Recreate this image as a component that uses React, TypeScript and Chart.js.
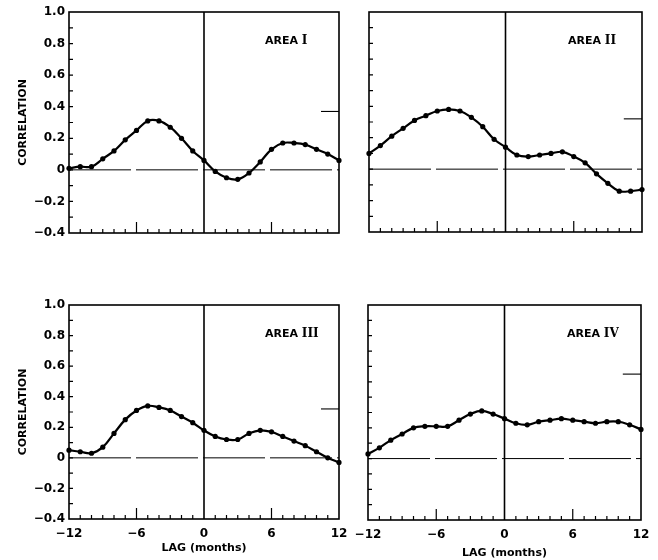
import React, { useEffect, useRef } from "react";
import { Chart, registerables } from "chart.js";

Chart.register(...registerables);

// Lag in months
const LAGS = [-12, -11, -10, -9, -8, -7, -6, -5, -4, -3, -2, -1, 0, 1, 2, 3, 4, 5, 6, 7, 8, 9, 10, 11, 12];

// Lagged correlation for each area
const AREA_I = [0.01, 0.02, 0.02, 0.07, 0.12, 0.19, 0.25, 0.31, 0.31, 0.27, 0.2, 0.12, 0.06, -0.01, -0.05, -0.06, -0.02, 0.05, 0.13, 0.17, 0.17, 0.16, 0.13, 0.1, 0.06];
const AREA_II = [0.1, 0.15, 0.21, 0.26, 0.31, 0.34, 0.37, 0.38, 0.37, 0.33, 0.27, 0.19, 0.14, 0.09, 0.08, 0.09, 0.1, 0.11, 0.08, 0.04, -0.03, -0.09, -0.14, -0.14, -0.13];
const AREA_III = [0.05, 0.04, 0.03, 0.07, 0.16, 0.25, 0.31, 0.34, 0.33, 0.31, 0.27, 0.23, 0.18, 0.14, 0.12, 0.12, 0.16, 0.18, 0.17, 0.14, 0.11, 0.08, 0.04, 0.0, -0.03];
const AREA_IV = [0.03, 0.07, 0.12, 0.16, 0.2, 0.21, 0.21, 0.21, 0.25, 0.29, 0.31, 0.29, 0.26, 0.23, 0.22, 0.24, 0.25, 0.26, 0.25, 0.24, 0.23, 0.24, 0.24, 0.22, 0.19];

// Significance level marked at the right edge of each panel
const SIGNIFICANCE = [0.37, 0.32, 0.32, 0.55];
const AREA_NAMES = ["I", "II", "III", "IV"];
const SERIES = [AREA_I, AREA_II, AREA_III, AREA_IV];

const Y_MIN = -0.4;
const Y_MAX = 1.0;
const Y_LABEL_STEP = 0.2;
const X_MIN = -12;
const X_MAX = 12;
const X_LABEL_STEP = 6;
const SIG_START = 10.4;

const SANS = '"DejaVu Sans", sans-serif';
const SERIF = '"DejaVu Serif", serif';

// Placement of the four panels on the page
const PANELS = [
  { left: 0, top: 0, width: 350, height: 250, yWidth: 69, padTop: 12, padRight: 11, xHeight: 17, showY: true, showX: false, titlePad: 0 },
  { left: 300, top: 0, width: 358, height: 250, yWidth: 69, padTop: 12, padRight: 16, xHeight: 18, showY: false, showX: false, titlePad: 0 },
  { left: 0, top: 280, width: 358, height: 280, yWidth: 69, padTop: 25, padRight: 19, xHeight: 41, showY: true, showX: true, titlePad: 5 },
  { left: 300, top: 280, width: 358, height: 280, yWidth: 68, padTop: 25, padRight: 17, xHeight: 40, showY: false, showX: true, titlePad: 0 },
];

const minus = "\u2212";
const fmtY = (v: number) => (Math.abs(v) < 1e-9 ? "0" : (v < 0 ? minus : "") + Math.abs(v).toFixed(1));
const fmtX = (v: number) => (v < 0 ? minus + Math.abs(v) : String(v));

// Box frame, inward tick marks and the area caption
const framePlugin = {
  id: "frame",
  afterDatasetsDraw(chart: any, _args: any, opts: any) {
    const { ctx, chartArea: a, scales } = chart;
    const xs = scales.x;
    const ys = scales.y;
    ctx.save();
    ctx.strokeStyle = "#000";
    ctx.lineWidth = 1.6;
    ctx.strokeRect(a.left, a.top, a.right - a.left, a.bottom - a.top);

    ctx.lineWidth = 1.2;
    ctx.beginPath();
    for (let m = X_MIN + 1; m < X_MAX; m++) {
      if (m === 0) continue;
      const px = xs.getPixelForValue(m);
      const len = Math.abs(m) === X_LABEL_STEP ? 11 : 4;
      ctx.moveTo(px, a.bottom);
      ctx.lineTo(px, a.bottom - len);
    }
    for (let k = -3; k <= 9; k++) {
      const py = ys.getPixelForValue(k / 10);
      ctx.moveTo(a.left, py);
      ctx.lineTo(a.left + 4, py);
    }
    ctx.stroke();

    // caption
    const cx = a.right - 74;
    const cy = a.top + 29;
    ctx.fillStyle = "#000";
    ctx.textBaseline = "middle";
    ctx.textAlign = "left";
    ctx.font = `bold 11px ${SANS}`;
    ctx.fillText("AREA", cx, cy);
    const w = ctx.measureText("AREA ").width;
    ctx.font = `bold 12px ${SERIF}`;
    ctx.fillText(opts.area, cx + w, cy);
    ctx.restore();
  },
};

function Panel({ index }: { index: number }) {
  const ref = useRef<HTMLCanvasElement>(null);
  const p = PANELS[index];

  useEffect(() => {
    const values = SERIES[index];
    const curve = LAGS.map((x, i) => ({ x, y: values[i] }));
    const zero = [{ x: X_MIN, y: 0 }, { x: X_MAX, y: 0 }];
    const origin = [{ x: 0, y: Y_MIN }, { x: 0, y: Y_MAX }];
    const sig = [{ x: SIG_START, y: SIGNIFICANCE[index] }, { x: X_MAX, y: SIGNIFICANCE[index] }];

    const chart = new Chart(ref.current as HTMLCanvasElement, {
      type: "line",
      data: {
        datasets: [
          {
            data: curve,
            borderColor: "#000",
            backgroundColor: "#000",
            borderWidth: 2.2,
            pointRadius: 2.6,
            pointBackgroundColor: "#000",
            pointBorderWidth: 0,
            tension: 0.4,
            clip: false,
          },
          {
            data: origin,
            borderColor: "#000",
            borderWidth: 1.6,
            pointRadius: 0,
          },
          {
            data: zero,
            borderColor: "#000",
            borderWidth: 1,
            borderDash: [62, 5],
            pointRadius: 0,
          },
          {
            data: sig,
            borderColor: "#000",
            borderWidth: 1.1,
            pointRadius: 0,
          },
        ],
      },
      options: {
        animation: false,
        responsive: false,
        devicePixelRatio: 1,
        events: [],
        layout: { padding: { top: p.padTop, right: p.padRight, left: 0, bottom: 0 } },
        plugins: {
          legend: { display: false },
          tooltip: { enabled: false },
          frame: { area: AREA_NAMES[index] },
        } as any,
        scales: {
          x: {
            type: "linear",
            min: X_MIN,
            max: X_MAX,
            grid: { display: false, drawTicks: false },
            border: { display: false },
            ticks: {
              display: p.showX,
              stepSize: X_LABEL_STEP,
              autoSkip: false,
              maxRotation: 0,
              padding: 8,
              color: "#000",
              font: { family: SANS, weight: "bold", size: 12 },
              callback: (v: any) => fmtX(Number(v)),
            },
            title: {
              display: p.showX,
              text: "LAG (months)",
              color: "#000",
              font: { family: SANS, weight: "bold", size: 11 },
              padding: { top: 0, bottom: p.titlePad },
            },
            afterFit: (s: any) => {
              s.height = p.xHeight;
            },
          },
          y: {
            min: Y_MIN,
            max: Y_MAX,
            grid: { display: false, drawTicks: false },
            border: { display: false },
            ticks: {
              display: p.showY,
              stepSize: Y_LABEL_STEP,
              padding: 4,
              color: "#000",
              font: { family: SANS, weight: "bold", size: 12 },
              callback: (v: any) => fmtY(Number(v)),
            },
            title: {
              display: p.showY,
              text: "CORRELATION",
              color: "#000",
              font: { family: SANS, weight: "bold", size: 11 },
              padding: { top: 17, bottom: 0 },
            },
            afterFit: (s: any) => {
              s.width = p.yWidth;
            },
          },
        },
      },
      plugins: [framePlugin],
    } as any);
    return () => chart.destroy();
  }, [index]);

  return (
    <canvas
      ref={ref}
      width={p.width}
      height={p.height}
      style={{ position: "absolute", left: p.left, top: p.top, width: p.width, height: p.height }}
    />
  );
}

export default function App() {
  return (
    <div style={{ position: "absolute", left: 0, top: 0, width: 658, height: 560, background: "#fff", overflow: "hidden" }}>
      {PANELS.map((_, i) => (
        <Panel key={i} index={i} />
      ))}
    </div>
  );
}
